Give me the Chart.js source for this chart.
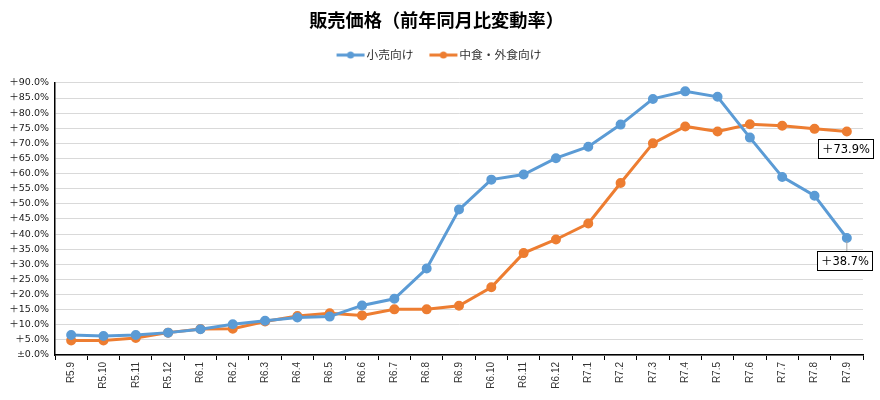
<!DOCTYPE html>
<html>
<head>
<meta charset="utf-8">
<script src="https://cdn.jsdelivr.net/npm/chart.js@4"></script>
<style>
html,body{margin:0;padding:0;background:#fff;}
#wrap{width:880px;height:400px;}
</style>
</head>
<body>
<div id="wrap"><canvas id="c" width="880" height="400"></canvas></div>
<script>
const categories = ['R5.9','R5.10','R5.11','R5.12','R6.1','R6.2','R6.3','R6.4','R6.5','R6.6','R6.7','R6.8','R6.9','R6.10','R6.11','R6.12','R7.1','R7.2','R7.3','R7.4','R7.5','R7.6','R7.7','R7.8','R7.9'];
const retailValues = [6.6, 6.3, 6.6, 7.4, 8.5, 10.2, 11.3, 12.4, 12.7, 16.4, 18.6, 28.6, 48.1, 58.0, 59.7, 65.1, 68.9, 76.2, 84.7, 87.2, 85.4, 71.9, 58.9, 52.7, 38.7];
const foodServiceValues = [4.8, 4.8, 5.6, 7.4, 8.6, 8.7, 11.1, 12.9, 13.8, 13.1, 15.1, 15.1, 16.3, 22.4, 33.7, 38.2, 43.5, 56.9, 70.0, 75.6, 73.9, 76.3, 75.8, 74.8, 73.9];
const seriesNames = ['小売向け', '中食・外食向け'];
const titleText = '販売価格（前年同月比変動率）';
const yMin = 0, yMax = 90, yStep = 5;

const BLUE = '#5B9BD5', ORANGE = '#ED7D31';

function legendIcon(color){
  const cv = document.createElement('canvas');
  cv.width = 36; cv.height = 8;
  const g = cv.getContext('2d');
  g.strokeStyle = color; g.lineWidth = 3;
  g.beginPath(); g.moveTo(6,4); g.lineTo(34,4); g.stroke();
  g.fillStyle = color;
  g.beginPath(); g.arc(20,4,3.5,0,Math.PI*2); g.fill();
  return cv;
}
const icons = [legendIcon(BLUE), legendIcon(ORANGE)];

function fmt(v){
  return v === 0 ? '±0.0%' : '＋' + v.toFixed(1) + '%';
}

const layoutTweak = {
  id: 'layoutTweak',
  beforeLayout(chart){
    const lg = chart.legend;
    if (lg && !lg._patched) {
      const orig = lg.fit;
      lg.fit = function(){ orig.call(this); this.height += 12; };
      lg._patched = true;
    }
  },
  afterLayout(chart){
    const lg = chart.legend;
    if (lg) { lg.left += 7.5; lg.right += 7.5; }
    const tt = chart.titleBlock;
    if (tt) { tt.left += 5; tt.right += 5; }
  }
};

const endLabels = {
  id: 'endLabels',
  afterDatasetsDraw(chart){
    const ctx = chart.ctx;
    const offs = [{dx:-2, dy:23, leader:true}, {dx:-1, dy:17, leader:false}];
    chart.data.datasets.forEach((ds, i) => {
      const meta = chart.getDatasetMeta(i);
      const last = meta.data[meta.data.length - 1];
      const v = ds.data[ds.data.length - 1];
      const txt = fmt(v);
      ctx.save();
      ctx.font = '11.5px "DejaVu Sans", "Noto Sans CJK JP", sans-serif';
      const w = Math.round(ctx.measureText(txt).width + 7);
      const h = 19;
      const cx = last.x + offs[i].dx, cy = last.y + offs[i].dy;
      const bx = Math.round(cx - w/2), by = Math.round(cy - h/2);
      if (offs[i].leader) {
        ctx.strokeStyle = '#a6a6a6'; ctx.lineWidth = 1;
        ctx.beginPath(); ctx.moveTo(last.x, last.y + 3); ctx.lineTo(cx + 2, by); ctx.stroke();
      }
      ctx.fillStyle = '#fff';
      ctx.fillRect(bx, by, w, h);
      ctx.strokeStyle = '#000'; ctx.lineWidth = 1;
      ctx.strokeRect(bx + 0.5, by + 0.5, w, h);
      ctx.fillStyle = '#000';
      ctx.textAlign = 'center'; ctx.textBaseline = 'middle';
      ctx.fillText(txt, bx + w/2 + 0.5, by + h/2 + 1.5);
      ctx.restore();
    });
  }
};

new Chart(document.getElementById('c'), {
  type: 'line',
  data: {
    labels: categories,
    datasets: [
      {label: seriesNames[0], data: retailValues, borderColor: BLUE, backgroundColor: BLUE,
       pointBackgroundColor: BLUE, pointBorderColor: BLUE, borderWidth: 3, pointRadius: 3.5, tension: 0},
      {label: seriesNames[1], data: foodServiceValues, borderColor: ORANGE, backgroundColor: ORANGE,
       pointBackgroundColor: ORANGE, pointBorderColor: ORANGE, borderWidth: 3, pointRadius: 3.5, tension: 0}
    ]
  },
  options: {
    responsive: false,
    animation: false,
    layout: {padding: {left: 0, right: 17, top: 0, bottom: 0}},
    plugins: {
      title: {
        display: true, text: titleText, color: '#000',
        font: {family: '"Noto Sans CJK JP", sans-serif', size: 18.2, weight: 'bold'},
        padding: {top: 9.5, bottom: 1.8}
      },
      legend: {
        display: true,
        labels: {
          usePointStyle: true, pointStyleWidth: 24, boxHeight: 8,
          color: '#333', padding: 16,
          font: {family: '"Noto Sans CJK JP", sans-serif', size: 11.75},
          generateLabels(chart){
            return chart.data.datasets.map((ds, i) => ({
              text: ds.label, fillStyle: ds.borderColor, strokeStyle: ds.borderColor,
              lineWidth: 0, pointStyle: icons[i], hidden: false, datasetIndex: i, fontColor: '#333'
            }));
          }
        }
      },
      tooltip: {enabled: false}
    },
    scales: {
      x: {
        offset: true,
        grid: {offset: true, drawOnChartArea: false, drawTicks: true, tickLength: 5, color: '#000', lineWidth: 1},
        border: {display: true, color: '#000', width: 1.5},
        ticks: {
          autoSkip: false, maxRotation: 90, minRotation: 90, padding: 2,
          color: '#333', font: {family: '"Liberation Sans", Arial, sans-serif', size: 10}
        },
        afterFit(scale){ scale.height = 45; }
      },
      y: {
        min: yMin, max: yMax,
        grid: {color: '#d9d9d9', lineWidth: 1, drawTicks: false},
        border: {display: true, color: '#000', width: 1.5},
        ticks: {
          stepSize: yStep, padding: 6, color: '#1a1a1a',
          font: {family: '"DejaVu Sans", "Noto Sans CJK JP", sans-serif', size: 9.5},
          callback: (v) => fmt(v)
        },
        afterFit(scale){ scale.width = 55; }
      }
    }
  },
  plugins: [layoutTweak, endLabels]
});
</script>
</body>
</html>
